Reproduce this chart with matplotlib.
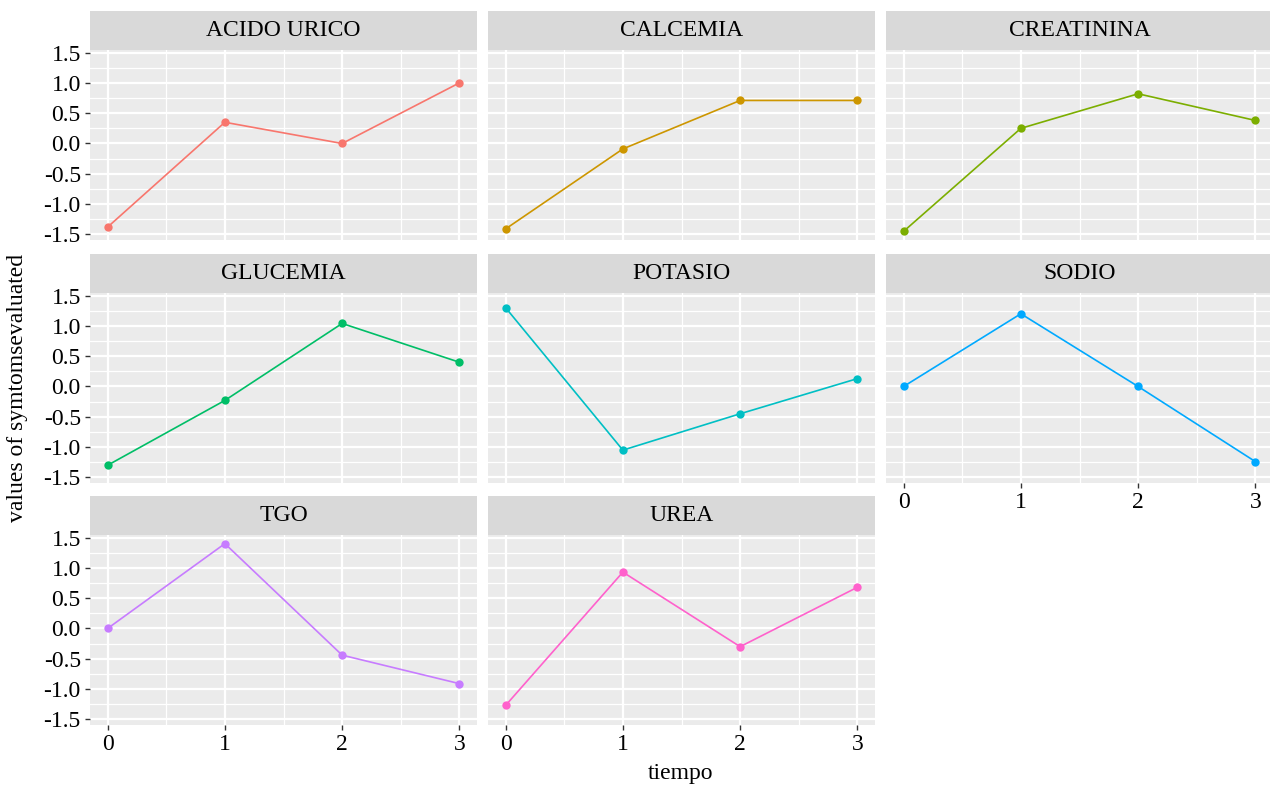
import matplotlib
matplotlib.use("Agg")
import matplotlib.pyplot as plt
from matplotlib.ticker import MultipleLocator

# data
tiempo = [0, 1, 2, 3]
panel_names = ["ACIDO URICO", "CALCEMIA", "CREATININA", "GLUCEMIA",
               "POTASIO", "SODIO", "TGO", "UREA"]
acido_urico = [-1.38, 0.35, 0.0, 1.0]
calcemia = [-1.41, -0.09, 0.71, 0.71]
creatinina = [-1.45, 0.25, 0.82, 0.38]
glucemia = [-1.30, -0.23, 1.04, 0.40]
potasio = [1.30, -1.05, -0.45, 0.13]
sodio = [0.0, 1.20, 0.0, -1.24]
tgo = [0.0, 1.40, -0.44, -0.91]
urea = [-1.27, 0.93, -0.30, 0.68]
series = [acido_urico, calcemia, creatinina, glucemia, potasio, sodio, tgo, urea]
colors = ["#F8766D", "#CD9600", "#7CAE00", "#00BE67",
          "#00BFC4", "#00A9FF", "#C77CFF", "#FF61CC"]
y_ticks = [-1.5, -1.0, -0.5, 0.0, 0.5, 1.0, 1.5]
y_labels = ["-1.5", "-1.0", "-0.5", "0.0", "0.5", "1.0", "1.5"]

plt.rcParams["font.family"] = ["Liberation Serif", "DejaVu Serif"]
FS = 17

W, H = 1270, 788
fig = plt.figure(figsize=(W / 100, H / 100), dpi=100)


def px_axes(x0, y0, w, h):
    return fig.add_axes([x0 / W, 1 - (y0 + h) / H, w / W, h / H])


col_x = [90, 488, 886]
panel_w = 387
row_y = [50, 293, 535]
panel_h = 190
strip_h = 39

lo = min(min(s) for s in series)
hi = max(max(s) for s in series)
pad = (hi - lo) * 0.05

for i, (name, vals, c) in enumerate(zip(panel_names, series, colors)):
    r, k = divmod(i, 3)
    ax = px_axes(col_x[k], row_y[r], panel_w, panel_h)
    ax.set_facecolor("#EBEBEB")
    for sp in ax.spines.values():
        sp.set_visible(False)
    ax.set_xlim(-0.15, 3.15)
    ax.set_ylim(lo - pad, hi + pad)
    ax.set_xticks(tiempo)
    ax.xaxis.set_minor_locator(MultipleLocator(0.5))
    ax.set_yticks(y_ticks)
    ax.yaxis.set_minor_locator(MultipleLocator(0.25))
    ax.grid(which="major", color="white", linewidth=1.6)
    ax.grid(which="minor", color="white", linewidth=0.9)
    ax.set_axisbelow(True)
    ax.tick_params(which="minor", length=0)
    ax.tick_params(which="major", length=3.6, width=1.0, color="#333333",
                   labelsize=FS, labelcolor="black", pad=3)

    if k == 0:
        ax.set_yticklabels(y_labels)
    else:
        ax.tick_params(axis="y", which="major", length=0, labelleft=False)
    bottom = (r == 2) or (r == 1 and k == 2)
    if bottom:
        ax.set_xticklabels([str(t) for t in tiempo])
    else:
        ax.tick_params(axis="x", which="major", length=0, labelbottom=False)

    ax.plot(tiempo, vals, color=c, linewidth=1.2, marker="o", markersize=6,
            markeredgewidth=0)

    sax = px_axes(col_x[k], row_y[r] - strip_h, panel_w, strip_h)
    sax.set_facecolor("#D9D9D9")
    sax.set_xticks([])
    sax.set_yticks([])
    for sp in sax.spines.values():
        sp.set_visible(False)
    sax.text(0.5, 0.5, name, ha="center", va="center", fontsize=FS,
             transform=sax.transAxes)

fig.text(18 / W, 1 - 388 / H, "values of symtomsevaluated", rotation=90,
         ha="center", va="center", fontsize=FS)
fig.text(681 / W, 1 - 773 / H, "tiempo", ha="center", va="center", fontsize=FS)

fig.savefig("out.png", dpi=100)
